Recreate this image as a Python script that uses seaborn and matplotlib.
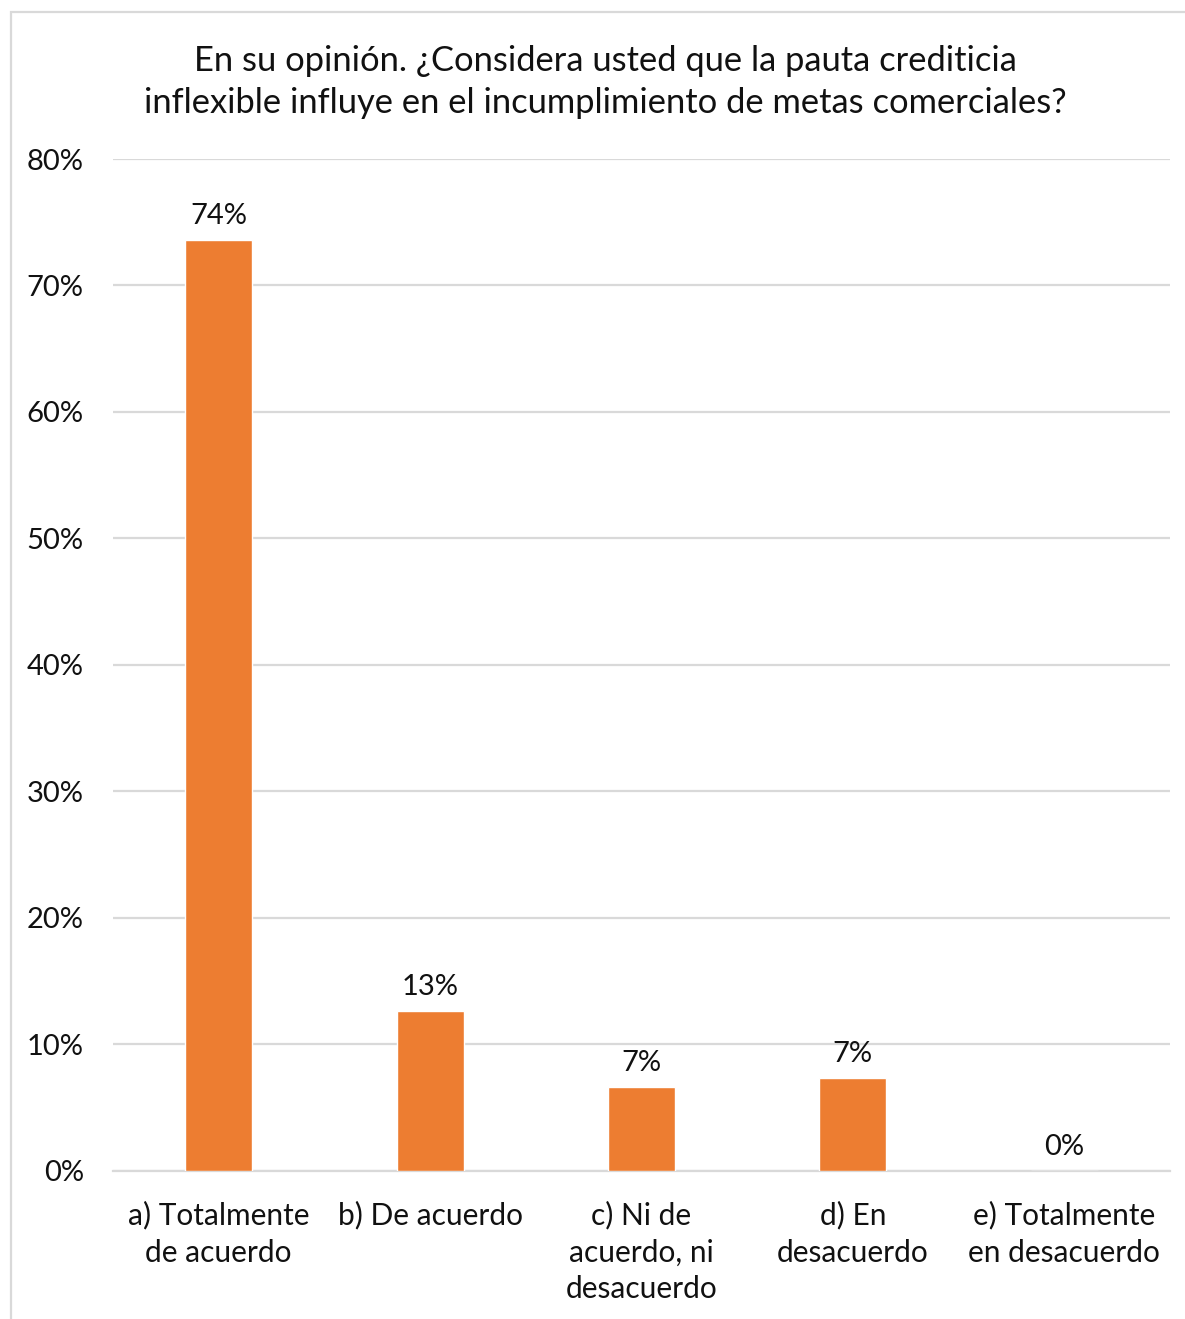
import matplotlib
matplotlib.use("Agg")
import matplotlib.pyplot as plt
import matplotlib.patches as mpatches
import seaborn as sns
import pandas as pd
from matplotlib.ticker import PercentFormatter, MultipleLocator

# Survey answers and their shares
categories = [
    "a) Totalmente\nde acuerdo",
    "b) De acuerdo",
    "c) Ni de\nacuerdo, ni\ndesacuerdo",
    "d) En\ndesacuerdo",
    "e) Totalmente\nen desacuerdo",
]
shares = [0.736, 0.126, 0.066, 0.073, 0.0]
title_text = ("En su opinión. ¿Considera usted que la pauta crediticia\n"
              "inflexible influye en el incumplimiento de metas comerciales?")

sns.set_theme(style="white")
plt.rcParams["font.family"] = ["Lato", "DejaVu Sans"]

df = pd.DataFrame({"respuesta": categories, "porcentaje": shares})

W, H, DPI = 1185, 1319, 100
fig = plt.figure(figsize=(W / DPI, H / DPI), dpi=DPI)
ax = fig.add_axes([113 / W, 1 - 1170.7 / H, (1170 - 113) / W, (1170.7 - 159) / H])

sns.barplot(data=df, x="respuesta", y="porcentaje", color="#ED7D31",
            saturation=1, width=0.317, ax=ax, zorder=3)

ax.set_ylim(0, 0.8)
ax.set_xlim(-0.5, len(categories) - 0.5)
ax.yaxis.set_major_locator(MultipleLocator(0.1))
ax.yaxis.set_major_formatter(PercentFormatter(1.0, decimals=0))
ax.grid(axis="y", color="#d9d9d9", linewidth=1.6, zorder=0)
ax.grid(axis="x", visible=False)
for side in ["top", "right", "left"]:
    ax.spines[side].set_visible(False)
ax.spines["bottom"].set_color("#d9d9d9")
ax.spines["bottom"].set_linewidth(1.6)
ax.set_xlabel("")
ax.set_ylabel("")
ax.tick_params(axis="y", length=0, pad=21, labelsize=21, labelcolor="#111111")
ax.tick_params(axis="x", length=0, pad=22, labelsize=21.5, labelcolor="#111111")
for lbl in ax.get_xticklabels():
    lbl.set_multialignment("center")
    lbl.set_linespacing(1.38)

# Value labels above each bar
for container in ax.containers:
    ax.bar_label(container, labels=[f"{v:.0%}" for v in shares],
                 padding=8, fontsize=21, color="#111111")

fig.text(605 / W, 1 - 82 / H, title_text, ha="center", va="center",
         fontsize=24.8, color="#111111", linespacing=1.4)

# Light chart frame
fig.patches.append(mpatches.Rectangle((11 / W, -0.05), 1.2, 1 - 12 / H + 0.05,
                                      transform=fig.transFigure, fill=False,
                                      edgecolor="#d9d9d9", linewidth=1.6))

fig.savefig("out.png", dpi=DPI, facecolor="white")
